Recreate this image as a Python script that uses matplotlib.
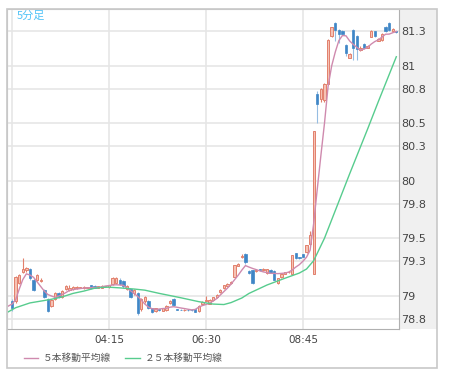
import numpy as np
import matplotlib.pyplot as plt
from matplotlib.patches import Rectangle

plt.rcParams['font.family'] = ['DejaVu Sans', 'Noto Sans CJK JP']

# 5分足, bar 0 = 02:00
opens = [78.95, 78.95, 79.11, 79.21, 79.22, 79.23, 79.14, 79.14, 79.13, 79.05,
         78.97, 78.91, 78.97, 79.02, 78.99, 79.06, 79.05, 79.06, 79.065, 79.07,
         79.065, 79.07, 79.09, 79.085, 79.07, 79.07, 79.08, 79.075, 79.10, 79.11,
         79.14, 79.13, 79.06, 79.055, 79.02, 79.02, 78.88, 78.95, 78.95, 78.89,
         78.87, 78.88, 78.87, 78.875, 78.935, 78.967, 78.88, 78.878, 78.875, 78.878,
         78.874, 78.88, 78.865, 78.925, 78.955, 78.93, 78.96, 78.985, 79.03, 79.065,
         79.08, 79.11, 79.16, 79.26, 79.335, 79.36, 79.215, 79.22, 79.215, 79.23,
         79.22, 79.195, 79.225, 79.215, 79.11, 79.16, 79.19, 79.205, 79.19, 79.37,
         79.335, 79.36, 79.38, 79.45, 79.19, 80.76, 80.71, 80.70, 80.845, 81.26,
         81.37, 81.31, 81.30, 81.18, 81.07, 81.31, 81.26, 81.135, 81.19, 81.16,
         81.255, 81.30, 81.22, 81.23, 81.34, 81.37, 81.30, 81.30]
highs = [78.97, 79.17, 79.19, 79.33, 79.25, 79.24, 79.15, 79.19, 79.15, 79.06,
         78.98, 78.97, 79.03, 79.03, 79.05, 79.09, 79.09, 79.08, 79.08, 79.076,
         79.08, 79.076, 79.095, 79.09, 79.085, 79.09, 79.085, 79.095, 79.16, 79.16,
         79.15, 79.14, 79.09, 79.06, 79.06, 79.03, 78.98, 79.00, 78.96, 78.895,
         78.895, 78.885, 78.895, 78.915, 78.965, 78.98, 78.885, 78.882, 78.882, 78.88,
         78.878, 78.885, 78.915, 78.95, 78.995, 78.97, 78.99, 79.015, 79.06, 79.095,
         79.11, 79.13, 79.27, 79.285, 79.36, 79.37, 79.22, 79.225, 79.23, 79.235,
         79.24, 79.235, 79.23, 79.22, 79.155, 79.195, 79.21, 79.21, 79.355, 79.375,
         79.34, 79.365, 79.445, 79.56, 80.43, 80.78, 80.81, 80.85, 81.235, 81.34,
         81.38, 81.32, 81.31, 81.19, 81.11, 81.32, 81.27, 81.17, 81.20, 81.18,
         81.31, 81.305, 81.24, 81.29, 81.35, 81.38, 81.33, 81.305]
lows = [78.87, 78.94, 79.10, 79.20, 79.21, 79.14, 79.04, 79.13, 79.12, 78.98,
        78.86, 78.90, 78.96, 78.98, 78.98, 79.05, 79.04, 79.05, 79.06, 79.066,
        79.06, 79.066, 79.06, 79.065, 79.065, 79.065, 79.075, 79.07, 79.09, 79.10,
        79.09, 79.07, 79.05, 78.98, 79.01, 78.83, 78.87, 78.94, 78.88, 78.85,
        78.86, 78.87, 78.865, 78.87, 78.93, 78.91, 78.875, 78.872, 78.87, 78.87,
        78.868, 78.855, 78.86, 78.92, 78.95, 78.925, 78.955, 78.98, 79.025, 79.06,
        79.075, 79.105, 79.155, 79.255, 79.33, 79.28, 79.19, 79.10, 79.21, 79.215,
        79.215, 79.185, 79.195, 79.135, 79.105, 79.155, 79.185, 79.20, 79.185, 79.32,
        79.32, 79.335, 79.375, 79.44, 79.19, 80.50, 80.69, 80.69, 80.84, 81.25,
        81.22, 81.20, 81.27, 81.09, 81.065, 81.05, 81.05, 81.13, 81.15, 81.155,
        81.25, 81.25, 81.215, 81.22, 81.295, 81.30, 81.295, 81.29]
closes = [78.89, 79.16, 79.18, 79.23, 79.24, 79.15, 79.05, 79.18, 79.14, 78.99,
          78.87, 78.96, 79.02, 78.99, 79.04, 79.08, 79.07, 79.075, 79.075, 79.072,
          79.075, 79.072, 79.065, 79.07, 79.08, 79.085, 79.082, 79.09, 79.15, 79.15,
          79.10, 79.08, 79.08, 78.99, 79.05, 78.85, 78.97, 78.99, 78.89, 78.86,
          78.89, 78.876, 78.89, 78.91, 78.955, 78.918, 78.878, 78.875, 78.878, 78.874,
          78.872, 78.86, 78.91, 78.945, 78.965, 78.96, 78.985, 79.01, 79.05, 79.09,
          79.105, 79.12, 79.265, 79.275, 79.345, 79.29, 79.20, 79.11, 79.225, 79.22,
          79.232, 79.23, 79.20, 79.14, 79.15, 79.19, 79.205, 79.205, 79.35, 79.325,
          79.325, 79.34, 79.44, 79.53, 80.43, 80.67, 80.80, 80.845, 81.23, 81.335,
          81.31, 81.28, 81.28, 81.115, 81.105, 81.16, 81.15, 81.16, 81.16, 81.175,
          81.305, 81.26, 81.235, 81.28, 81.30, 81.31, 81.32, 81.295]

# 5本移動平均線, bar -1 .. 107
ma5 = [78.91, 78.927, 78.962, 79.056, 79.14, 79.19, 79.18, 79.16, 79.12, 79.08,
       79.04, 79.01, 78.997, 78.985, 78.997, 79.01, 79.027, 79.046, 79.053, 79.058,
       79.062, 79.066, 79.068, 79.07, 79.071, 79.073, 79.077, 79.084, 79.088, 79.093,
       79.095, 79.093, 79.09, 79.066, 79.043, 79.019, 78.994, 78.962, 78.927, 78.901,
       78.886, 78.881, 78.884, 78.888, 78.89, 78.9, 78.904, 78.899, 78.893, 78.888,
       78.882, 78.877, 78.88, 78.9, 78.914, 78.923, 78.934, 78.954, 78.975, 79.006,
       79.036, 79.066, 79.101, 79.14, 79.179, 79.223, 79.262, 79.249, 79.237, 79.227,
       79.216, 79.207, 79.201, 79.195, 79.194, 79.192, 79.194, 79.197, 79.205, 79.223,
       79.249, 79.27, 79.3, 79.335, 79.396, 79.63, 79.93, 80.22, 80.5, 80.82,
       81.0, 81.12, 81.22, 81.265, 81.262, 81.218, 81.188, 81.162, 81.138, 81.147,
       81.161, 81.19, 81.212, 81.227, 81.251, 81.276, 81.277, 81.289, 81.30]

# 25本移動平均線 (read at these bars)
ma25_bars = [-1, 1, 5, 9, 12, 14, 17, 20, 23, 25, 27, 30, 34, 37, 41, 47, 52, 56,
             59, 61, 64, 66, 71, 76, 80, 82, 84, 85, 87, 89, 94, 99, 102, 107]
ma25 = [78.86, 78.895, 78.937, 78.958, 78.975, 78.99, 79.02, 79.04, 79.065, 79.072,
        79.074, 79.068, 79.058, 79.048, 79.02, 78.982, 78.948, 78.927, 78.923, 78.94,
        78.98, 79.02, 79.093, 79.152, 79.197, 79.232, 79.305, 79.37, 79.50, 79.66,
        80.06, 80.45, 80.69, 81.08]

time_ticks = [0, 27, 54, 81]
time_labels = ['', '04:15', '06:30', '08:45']
price_ticks = [78.8, 79, 79.3, 79.5, 79.8, 80, 80.3, 80.5, 80.8, 81, 81.3]
price_labels = ['78.8', '79', '79.3', '79.5', '79.8', '80', '80.3', '80.5', '80.8', '81', '81.3']

RED_FILL = '#f6c2b4'
RED_EDGE = '#e2806c'
BLUE = '#3f86c6'
BLUE_WICK = '#96bde2'
MA5_COLOR = '#cf8aae'
MA25_COLOR = '#57cc8e'

W, H = 451, 380
fig = plt.figure(figsize=(W / 100, H / 100), dpi=100)

# gray price panel behind the right-hand labels
fig.patches.append(Rectangle((399 / W, 1 - 329 / H), 38 / W, (329 - 8.5) / H,
                             transform=fig.transFigure, facecolor='#f0f0f0',
                             edgecolor='none', zorder=-1))

ax = fig.add_axes([7.5 / W, 1 - 329 / H, (399 - 7.5) / W, (329 - 8.5) / H])

o = np.array(opens)
h = np.array(highs)
l = np.array(lows)
c = np.array(closes)
x = np.arange(len(o))
up = c >= o
body = np.maximum(np.abs(c - o), 0.004)
bottom = np.minimum(o, c)

ax.vlines(x[up], l[up], h[up], color=RED_EDGE, lw=0.8, zorder=2)
ax.vlines(x[~up], l[~up], h[~up], color=BLUE_WICK, lw=0.8, zorder=2)
ax.bar(x[up], body[up], bottom=bottom[up], width=0.66, color=RED_FILL,
       edgecolor=RED_EDGE, linewidth=0.7, zorder=3)
ax.bar(x[~up], body[~up], bottom=bottom[~up], width=0.66, color=BLUE,
       edgecolor=BLUE, linewidth=0.5, zorder=3)

ax.plot(np.arange(-1, len(o)), ma5, color=MA5_COLOR, lw=1.0, zorder=4,
        label='５本移動平均線')
ax.plot(ma25_bars, ma25, color=MA25_COLOR, lw=1.0, zorder=4,
        label='２５本移動平均線')

ax.set_xlim(-1.25, 107.75)
ax.set_ylim(78.71, 81.50)
ax.set_xticks(time_ticks, time_labels)
ax.yaxis.tick_right()
ax.set_yticks(price_ticks, price_labels)
ax.tick_params(axis='y', length=0, pad=1.5, labelsize=8, colors='#444444')
ax.tick_params(axis='x', length=0, pad=4.5, labelsize=7.5, colors='#444444')
ax.grid(True, color='#e6e6e6', lw=1.2)
ax.set_axisbelow(True)
for side in ['left', 'top']:
    ax.spines[side].set_color('#c8c8c8')
for side in ['right', 'bottom']:
    ax.spines[side].set_color('#b0b0b0')

fig.patches.append(Rectangle((7.5 / W, 1 - 368 / H), (437 - 7.5) / W, (368 - 8.5) / H,
                             transform=fig.transFigure, fill=False,
                             edgecolor='#c8c8c8', lw=1.2, zorder=5))

fig.text(17 / W, 1 - 16 / H, '5分足', color='#4fc3f7', fontsize=8,
         family=['Noto Sans CJK JP', 'DejaVu Sans'], va='center', ha='left')

leg = fig.legend(loc='center left', bbox_to_anchor=(19 / W, 1 - 358 / H), ncol=2,
                 frameon=False, borderpad=0, handlelength=1.5, handletextpad=0.5,
                 columnspacing=1.4,
                 prop={'family': ['Noto Sans CJK JP', 'DejaVu Sans'], 'size': 7})
for t in leg.get_texts():
    t.set_color('#555555')

fig.savefig('out.png', dpi=100)
